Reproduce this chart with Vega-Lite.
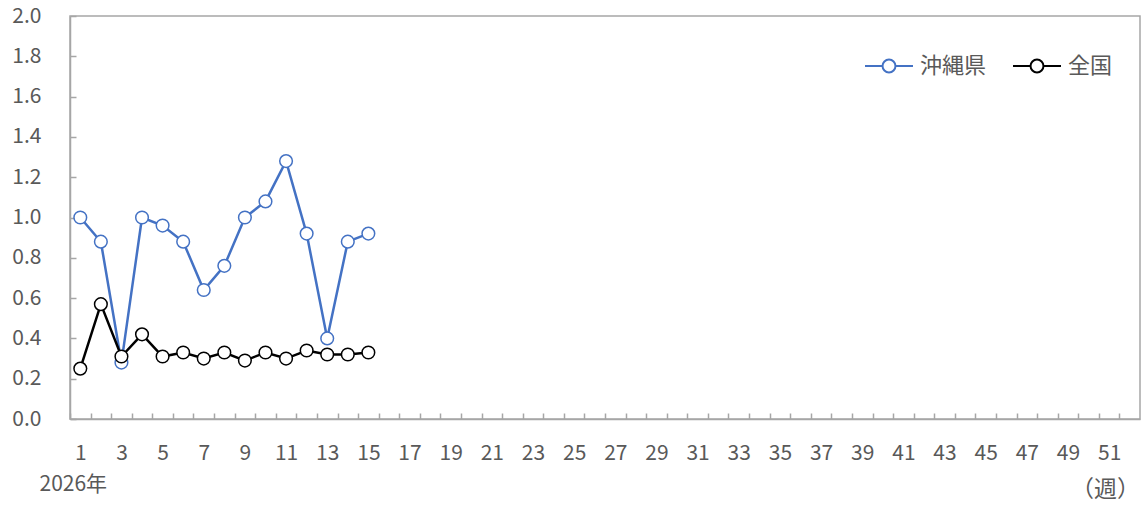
{
  "$schema": "https://vega.github.io/schema/vega-lite/v6.json",
  "width": 1141,
  "height": 506,
  "autosize": {"type": "fit", "contains": "padding"},
  "padding": {"left": 11, "top": 5, "right": 1, "bottom": 4},
  "background": "white",
  "config": {
    "font": "Noto Sans CJK JP",
    "view": {"stroke": "#a6a6a6", "strokeWidth": 1.5},
    "axis": {"grid": false, "domainColor": "#a6a6a6", "domainWidth": 1.5, "tickColor": "#a6a6a6", "tickWidth": 1.5, "labelColor": "#595959", "labelFontSize": 21, "labelFont": "Noto Sans CJK JP", "titleFont": "Noto Sans CJK JP"}
  },
  "title": {"text": "（週）", "orient": "bottom", "anchor": "end", "fontSize": 23, "fontWeight": "normal", "color": "#595959", "offset": -15, "font": "Noto Sans CJK JP"},
  "data": {
    "values": [
      {"week": 1, "area": "沖縄県", "v": 1.00}, {"week": 2, "area": "沖縄県", "v": 0.88}, {"week": 3, "area": "沖縄県", "v": 0.28},
      {"week": 4, "area": "沖縄県", "v": 1.00}, {"week": 5, "area": "沖縄県", "v": 0.96}, {"week": 6, "area": "沖縄県", "v": 0.88},
      {"week": 7, "area": "沖縄県", "v": 0.64}, {"week": 8, "area": "沖縄県", "v": 0.76}, {"week": 9, "area": "沖縄県", "v": 1.00},
      {"week": 10, "area": "沖縄県", "v": 1.08}, {"week": 11, "area": "沖縄県", "v": 1.28}, {"week": 12, "area": "沖縄県", "v": 0.92},
      {"week": 13, "area": "沖縄県", "v": 0.40}, {"week": 14, "area": "沖縄県", "v": 0.88}, {"week": 15, "area": "沖縄県", "v": 0.92},
      {"week": 1, "area": "全国", "v": 0.25}, {"week": 2, "area": "全国", "v": 0.57}, {"week": 3, "area": "全国", "v": 0.31},
      {"week": 4, "area": "全国", "v": 0.42}, {"week": 5, "area": "全国", "v": 0.31}, {"week": 6, "area": "全国", "v": 0.33},
      {"week": 7, "area": "全国", "v": 0.30}, {"week": 8, "area": "全国", "v": 0.33}, {"week": 9, "area": "全国", "v": 0.29},
      {"week": 10, "area": "全国", "v": 0.33}, {"week": 11, "area": "全国", "v": 0.30}, {"week": 12, "area": "全国", "v": 0.34},
      {"week": 13, "area": "全国", "v": 0.32}, {"week": 14, "area": "全国", "v": 0.32}, {"week": 15, "area": "全国", "v": 0.33}
    ]
  },
  "encoding": {
    "x": {"field": "week", "type": "quantitative",
      "scale": {"domain": [0.5, 52.5], "nice": false, "zero": false},
      "axis": {
        "values": [0.5,1.5,2.5,3.5,4.5,5.5,6.5,7.5,8.5,9.5,10.5,11.5,12.5,13.5,14.5,15.5,16.5,17.5,18.5,19.5,20.5,21.5,22.5,23.5,24.5,25.5,26.5,27.5,28.5,29.5,30.5,31.5,32.5,33.5,34.5,35.5,36.5,37.5,38.5,39.5,40.5,41.5,42.5,43.5,44.5,45.5,46.5,47.5,48.5,49.5,50.5,51.5],
        "labelExpr": "((datum.value + 0.5) % 2 == 1) ? format(datum.value + 0.5, 'd') : ''",
        "labelOffset": 10.3, "labelFlush": false, "labelOverlap": false, "labelPadding": 29,
        "tickSize": -6,
        "title": "2026年", "titleAnchor": "start", "titleAlign": "left", "titleX": -31, "titleY": 65, "titleBaseline": "middle",
        "titleFontSize": 21, "titleFontWeight": "normal", "titleColor": "#595959"
      }
    },
    "y": {"field": "v", "type": "quantitative",
      "scale": {"domain": [0, 2], "nice": false},
      "axis": {"values": [0, 0.2, 0.4, 0.6, 0.8, 1.0, 1.2, 1.4, 1.6, 1.8, 2.0], "format": ".1f", "tickSize": -6, "labelPadding": 35, "title": null}
    },
    "stroke": {"field": "area", "type": "nominal", "sort": ["沖縄県", "全国"],
      "scale": {"domain": ["沖縄県", "全国"], "range": ["#4472c4", "#000000"]},
      "legend": {"title": null, "orient": "none", "legendX": 794, "legendY": 25, "direction": "horizontal",
        "symbolType": "M-1,0H-0.27M0.27,0H1M0.27,0A0.27,0.27 0 1 1 -0.27,0A0.27,0.27 0 1 1 0.27,0Z",
        "symbolSize": 2300, "symbolFillColor": "white", "symbolStrokeWidth": 2,
        "labelFontSize": 22, "labelColor": "#595959", "columnPadding": 22, "labelOffset": 6}
    }
  },
  "layer": [
    {"transform": [{"filter": "datum.area == '沖縄県'"}], "mark": {"type": "line", "strokeWidth": 2.5}},
    {"transform": [{"filter": "datum.area == '沖縄県'"}], "mark": {"type": "point", "shape": "circle", "filled": true, "fill": "white", "size": 160, "strokeWidth": 1.5, "opacity": 1}},
    {"transform": [{"filter": "datum.area == '全国'"}], "mark": {"type": "line", "strokeWidth": 2.5}},
    {"transform": [{"filter": "datum.area == '全国'"}], "mark": {"type": "point", "shape": "circle", "filled": true, "fill": "white", "size": 160, "strokeWidth": 1.5, "opacity": 1}}
  ]
}
